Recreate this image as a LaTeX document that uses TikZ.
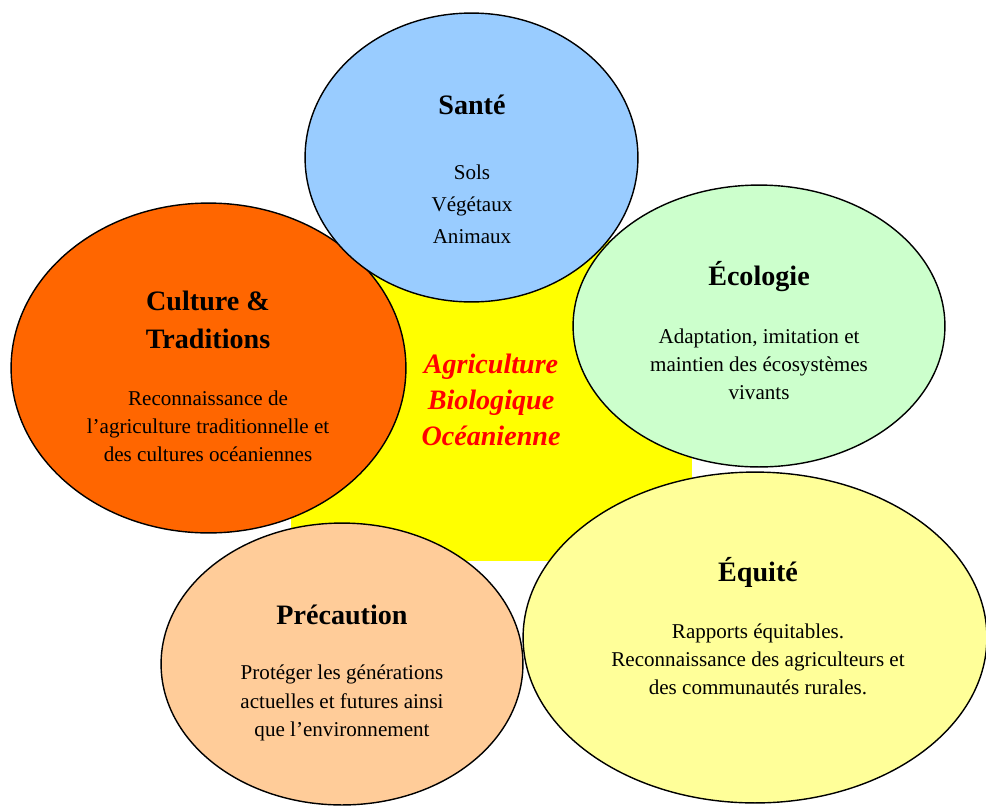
\documentclass[tikz,border=0pt]{standalone}
\usepackage{fontspec}
\setmainfont{Liberation Serif}
\usetikzlibrary{shapes.geometric}
\definecolor{jauneFond}{HTML}{FFFF00}
\definecolor{rougeTitre}{HTML}{FF0000}
\definecolor{bleuSante}{HTML}{99CCFF}
\definecolor{orangeCulture}{HTML}{FF6600}
\definecolor{vertEcologie}{HTML}{CCFFCC}
\definecolor{jauneEquite}{HTML}{FFFF99}
\definecolor{pechePrecaution}{HTML}{FFCC99}
\newcommand{\Bulle}[5]%
% name, centre, x radius, y radius, fill color
{   \node[bulle, fill=#5, minimum width=#3*0.04cm, minimum height=#4*0.04cm] (#1) at #2 {};
}
\tikzset{
  bulle/.style={ellipse, draw=black, line width=0.8pt, inner sep=0pt},
  titre/.style={font=\fontsize{16}{21.5}\selectfont\bfseries, align=center},
  texte/.style={font=\fontsize{12}{16}\selectfont, align=center},
}

\begin{document}
\begin{tikzpicture}[x=0.02cm, y=-0.02cm]
			\useasboundingbox (0,0) rectangle (986,805);
			% fond jaune au centre
			\fill[jauneFond] (291,240) rectangle (692,561);
			\Bulle{culture}{(208.5,368)}{197.5}{165}{orangeCulture}
			\Bulle{sante}{(471.5,157.5)}{166.5}{144.5}{bleuSante}
			\Bulle{ecologie}{(759,326)}{186}{141}{vertEcologie}
			\Bulle{precaution}{(342,664)}{181}{141}{pechePrecaution}
			\Bulle{equite}{(755,637.5)}{232}{165.5}{jauneEquite}
			% textes
			\node[font=\fontsize{16}{20.4}\selectfont\bfseries\itshape, text=rougeTitre, align=center] (abo) at (491,400)
			{Agriculture\\Biologique\\Océanienne};
			\node[titre] (tSante) at (472,105) {Santé};
			\node[texte, font=\fontsize{12}{18.1}\selectfont] (bSante) at (472,204) {Sols\\Végétaux\\Animaux};
			\node[titre] (tCulture) at (208,320) {Culture \&\\Traditions};
			\node[texte] (bCulture) at (208,426)
			{Reconnaissance de\\l’agriculture traditionnelle et\\des cultures océaniennes};
			\node[titre] (tEcologie) at (759,277) {Écologie};
			\node[texte] (bEcologie) at (759,364)
			{Adaptation, imitation et\\maintien des écosystèmes\\vivants};
			\node[titre] (tEquite) at (758,572) {Équité};
			\node[texte] (bEquite) at (758,659)
			{Rapports équitables.\\Reconnaissance des agriculteurs et\\des communautés rurales.};
			\node[titre] (tPrecaution) at (342,615) {Précaution};
			\node[texte] (bPrecaution) at (342,703)
			{Protéger les générations\\actuelles et futures ainsi\\que l’environnement};
\end{tikzpicture}
\end{document}
